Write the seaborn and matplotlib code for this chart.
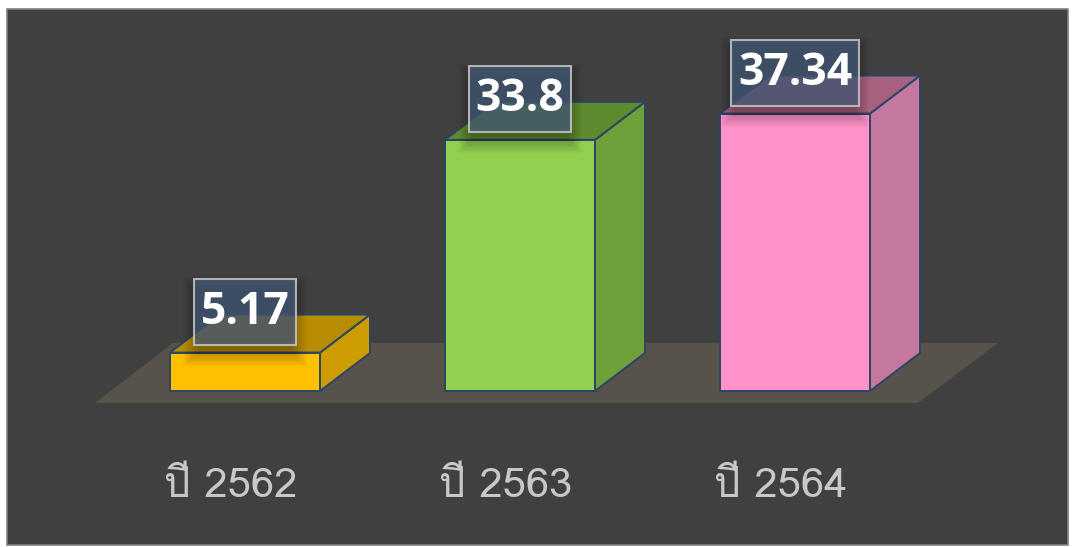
import numpy as np
import pandas as pd
import matplotlib
matplotlib.use("Agg")
import matplotlib.pyplot as plt
from matplotlib.patches import Polygon, Rectangle, FancyBboxPatch
from matplotlib import font_manager
import seaborn as sns

# ---- data ----
categories = ["ปี 2562", "ปี 2563", "ปี 2564"]
values = [5.17, 33.8, 37.34]
value_labels = ["5.17", "33.8", "37.34"]
front_colors = ["#FFC000", "#92D050", "#FF93C9"]
side_colors = ["#CC9C00", "#70A03A", "#C4779F"]
top_colors = ["#B88C00", "#5E8A30", "#A8627F"]

# ---- find a font with Thai glyphs ----
thai_family = None
try:
    from fontTools.ttLib import TTFont
    for f in font_manager.fontManager.ttflist:
        try:
            tt = TTFont(f.fname, fontNumber=0, lazy=True)
            cmap = tt.getBestCmap()
            if cmap and 0x0E1B in cmap and 0x0E35 in cmap:
                thai_family = f.name
                break
        except Exception:
            pass
except Exception:
    pass

sns.set_theme(style="white")
plt.rcParams["font.family"] = ["Open Sans", "DejaVu Sans"]

W, H = 1077, 547
fig = plt.figure(figsize=(W / 100, H / 100), dpi=100, facecolor="white")

ax = fig.add_axes([0, 0, 1, 1])
ax.set_facecolor("none")

# dark panel
ax.add_patch(Rectangle((7 / W, 2 / H), 1061 / W, (H - 9 - 2) / H,
                       transform=ax.transAxes, facecolor="#404040",
                       edgecolor="#808080", linewidth=1.2, zorder=0))

# pixel mapping: category i centre at 245 + 275*i px, baseline at 391 px, 7.43 px per unit
sx, x0px, sy, y0px = 275.0, 245.0, 7.43, 391.0
def px2x(p): return (p - x0px) / sx
def py2y(p): return (y0px - p) / sy

df = pd.DataFrame({"cat": categories, "val": values})
sns.barplot(data=df, x="cat", y="val", hue="cat", palette=front_colors,
            saturation=1, width=150 / sx, edgecolor="#2C4466", linewidth=1.4,
            legend=False, ax=ax, zorder=3)
bars = [p for p in ax.patches if p.get_zorder() == 3]

ax.set_xlim(px2x(0), px2x(W))
ax.set_ylim(py2y(H), py2y(0))
ax.axis("off")

# floor
ax.add_patch(Polygon([(px2x(95), py2y(403)), (px2x(918), py2y(403)),
                      (px2x(998), py2y(343)), (px2x(173), py2y(343))],
                     closed=True, facecolor="#57524A", edgecolor="none", zorder=1))

renderer = fig.canvas.get_renderer()
dx = 50 / sx
dy = 38 / sy
for i, p in enumerate(bars):
    bx, bw, bh = p.get_x(), p.get_width(), p.get_height()
    side = Polygon([(bx + bw, 0), (bx + bw + dx, dy), (bx + bw + dx, bh + dy), (bx + bw, bh)],
                   closed=True, facecolor=side_colors[i], edgecolor="#2C4466",
                   linewidth=1.4, zorder=2)
    top = Polygon([(bx, bh), (bx + dx, bh + dy), (bx + bw + dx, bh + dy), (bx + bw, bh)],
                  closed=True, facecolor=top_colors[i], edgecolor="#2C4466",
                  linewidth=1.4, zorder=2)
    ax.add_patch(side)
    ax.add_patch(top)
    cx, cy = bx + bw / 2, bh + 40.5 / sy
    t = ax.text(cx, cy, value_labels[i], ha="center", va="center",
                fontsize=32, fontweight="bold", color="white",
                family=["Open Sans", "DejaVu Sans"], zorder=8)
    tw_px = t.get_window_extent(renderer).width
    bw_px, bh_px = tw_px + 14, 66
    # soft shadow (many faint layers)
    for k in range(12):
        g = k * 1.3
        ax.add_patch(Rectangle((cx - (bw_px / 2 + g - 4) / sx, cy - (bh_px / 2 + g + 7) / sy),
                               (bw_px + 2 * g - 8) / sx, (bh_px + 2 * g - 4) / sy,
                               facecolor="black", edgecolor="none", alpha=0.022, zorder=4))
    ax.add_patch(Rectangle((cx - bw_px / 2 / sx, cy - bh_px / 2 / sy), bw_px / sx, bh_px / sy,
                           facecolor="#465D7C", alpha=0.72, edgecolor="none", zorder=5))
    ax.add_patch(Rectangle((cx - bw_px / 2 / sx, cy - bh_px / 2 / sy), bw_px / sx, bh_px / sy,
                           facecolor="none", edgecolor="#C8C8C8", alpha=0.85,
                           linewidth=1.5, zorder=6))

lab_family = [thai_family, "DejaVu Sans"] if thai_family else ["DejaVu Sans"]
for i, c in enumerate(categories):
    ax.text(i - 14 / sx, py2y(487), c, ha="center", va="center", fontsize=30,
            color="#C8C8C8", family=lab_family, fontweight="light", zorder=6)

fig.savefig("out.png", dpi=100, facecolor="white")
